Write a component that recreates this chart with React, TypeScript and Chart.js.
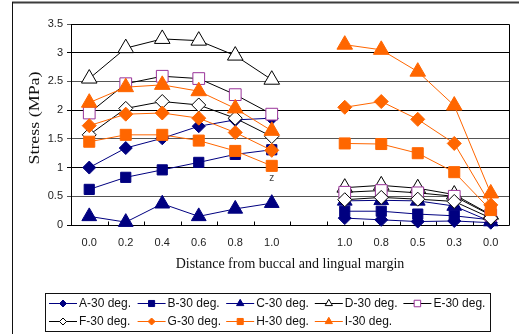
import React, { useEffect, useRef } from "react";
import { Chart, registerables } from "chart.js";

Chart.register(...registerables);

// ---------- data ----------
const CATEGORIES = ["0.0", "0.2", "0.4", "0.6", "0.8", "1.0", "", "1.0", "0.8", "0.5", "0.3", "0.0"];
const SERIES_NAMES = ["A-30 deg.", "B-30 deg.", "C-30 deg.", "D-30 deg.", "E-30 deg.", "F-30 deg.", "G-30 deg.", "H-30 deg.", "I-30 deg."];

const A_30 = [1.0, 1.34, 1.51, 1.72, 1.83, 1.86, null, 0.12, 0.09, 0.06, 0.07, 0.04];
const B_30 = [0.62, 0.83, 0.96, 1.09, 1.23, 1.31, null, 0.24, 0.24, 0.19, 0.16, 0.09];
const C_30 = [0.15, 0.05, 0.37, 0.15, 0.28, 0.38, null, 0.42, 0.43, 0.42, 0.33, 0.06];
const D_30 = [2.55, 3.08, 3.24, 3.21, 2.95, 2.53, null, 0.65, 0.69, 0.64, 0.53, 0.18];
const E_30 = [1.95, 2.46, 2.59, 2.55, 2.27, 1.93, null, 0.57, 0.6, 0.56, 0.5, 0.17];
const F_30 = [1.57, 2.03, 2.15, 2.09, 1.86, 1.54, null, 0.44, 0.48, 0.45, 0.41, 0.12];
const G_30 = [1.73, 1.93, 1.95, 1.86, 1.61, 1.3, null, 2.05, 2.15, 1.84, 1.42, 0.35];
const H_30 = [1.45, 1.57, 1.57, 1.47, 1.29, 1.03, null, 1.42, 1.41, 1.25, 0.92, 0.26];
const I_30 = [2.13, 2.4, 2.44, 2.33, 2.03, 1.64, null, 3.14, 3.05, 2.67, 2.08, 0.55];

const SERIES_DATA = [A_30, B_30, C_30, D_30, E_30, F_30, G_30, H_30, I_30];

const Y_MIN = 0;
const Y_MAX = 3.5;
const Y_STEP = 0.5;

const Y_TITLE = "Stress (MPa)";
const X_TITLE = "Distance from buccal and lingual margin";
const NOTE_TEXT = "z";
const NOTE_CATEGORY = 5;
const NOTE_VALUE = 0.82;

// ---------- styles ----------
const NAVY = "#000080";
const ORANGE = "#FF6600";
const PURPLE = "#993399";
const BLACK = "#000000";
const WHITE = "#FFFFFF";

type Style = { shape: string; r: number; lr: number; fill: string; stroke: string; line: string };
const STYLES: Style[] = [
  { shape: "rectRot", r: 6.5, lr: 3.5, fill: NAVY, stroke: NAVY, line: NAVY },
  { shape: "rect", r: 7.2, lr: 4.3, fill: NAVY, stroke: NAVY, line: NAVY },
  { shape: "triangle", r: 8.5, lr: 4.2, fill: NAVY, stroke: NAVY, line: NAVY },
  { shape: "triangle", r: 9, lr: 4.2, fill: WHITE, stroke: BLACK, line: BLACK },
  { shape: "rect", r: 8.3, lr: 4.6, fill: WHITE, stroke: PURPLE, line: BLACK },
  { shape: "rectRot", r: 7, lr: 3.5, fill: WHITE, stroke: BLACK, line: BLACK },
  { shape: "rectRot", r: 7, lr: 3.5, fill: ORANGE, stroke: ORANGE, line: ORANGE },
  { shape: "rect", r: 7.8, lr: 4.3, fill: ORANGE, stroke: ORANGE, line: ORANGE },
  { shape: "triangle", r: 9, lr: 4.2, fill: ORANGE, stroke: ORANGE, line: ORANGE },
];

function drawMarker(ctx: CanvasRenderingContext2D, shape: string, x: number, y: number, r: number, fill: string, stroke: string) {
  ctx.beginPath();
  if (shape === "rectRot") {
    ctx.moveTo(x - r, y);
    ctx.lineTo(x, y - r);
    ctx.lineTo(x + r, y);
    ctx.lineTo(x, y + r);
    ctx.closePath();
  } else if (shape === "rect") {
    const s = Math.SQRT1_2 * r;
    ctx.rect(x - s, y - s, 2 * s, 2 * s);
  } else {
    const h = r * 0.866;
    ctx.moveTo(x, y - r);
    ctx.lineTo(x + h, y + r / 2);
    ctx.lineTo(x - h, y + r / 2);
    ctx.closePath();
  }
  ctx.fillStyle = fill;
  ctx.fill();
  ctx.strokeStyle = stroke;
  ctx.lineWidth = 1;
  ctx.stroke();
}

const decorPlugin = {
  id: "decor",
  beforeDraw(chart: any) {
    const ctx = chart.ctx;
    ctx.save();
    ctx.fillStyle = "#FFFFFF";
    ctx.fillRect(0, 0, chart.width, chart.height);
    ctx.restore();
  },
  beforeDatasetsDraw(chart: any) {
    const ctx = chart.ctx as CanvasRenderingContext2D;
    const a = chart.chartArea;
    ctx.save();
    ctx.strokeStyle = "#000";
    ctx.lineWidth = 1;
    const l = Math.round(a.left) + 0.5;
    const t = Math.round(a.top) + 0.5;
    const r = Math.round(a.right) + 0.5;
    const b = Math.round(a.bottom) + 0.5;
    ctx.beginPath();
    ctx.moveTo(l, t);
    ctx.lineTo(r, t);
    ctx.lineTo(r, b);
    ctx.lineTo(l, b);
    ctx.closePath();
    ctx.stroke();
    // inward category tick marks
    const n = CATEGORIES.length;
    const step = (a.right - a.left) / n;
    ctx.beginPath();
    for (let k = 1; k < n; k++) {
      const x = Math.round(a.left + k * step) + 0.5;
      ctx.moveTo(x, b);
      ctx.lineTo(x, b - 4);
    }
    ctx.stroke();
    ctx.restore();
  },
  afterDraw(chart: any) {
    const ctx = chart.ctx as CanvasRenderingContext2D;
    const xs = chart.scales.x;
    const ys = chart.scales.y;
    ctx.save();
    // outer frame
    ctx.strokeStyle = "#3c3c3c";
    ctx.lineWidth = 2;
    ctx.beginPath();
    ctx.moveTo(12, 2.5);
    ctx.lineTo(chart.width, 2.5);
    ctx.stroke();
    ctx.strokeStyle = "#111";
    ctx.lineWidth = 1;
    ctx.beginPath();
    ctx.moveTo(12.5, 2);
    ctx.lineTo(12.5, chart.height);
    ctx.stroke();

    // y title (stretched like the reference)
    ctx.save();
    ctx.translate(35, 118);
    ctx.rotate(-Math.PI / 2);
    ctx.scale(1.28, 1);
    ctx.font = "14px 'Liberation Serif', 'Times New Roman', serif";
    ctx.fillStyle = "#111";
    ctx.textAlign = "center";
    ctx.textBaseline = "middle";
    ctx.fillText(Y_TITLE, 0, 0);
    ctx.restore();

    // note
    ctx.font = "10px 'Liberation Sans', Arial, sans-serif";
    ctx.fillStyle = "#444";
    ctx.textAlign = "center";
    ctx.textBaseline = "middle";
    ctx.fillText(NOTE_TEXT, xs.getPixelForValue(NOTE_CATEGORY), ys.getPixelForValue(NOTE_VALUE));

    // legend
    const boxL = 45.5, boxT = 293.5, boxR = 490.5, boxB = 331.5;
    ctx.strokeStyle = "#111";
    ctx.lineWidth = 1;
    ctx.strokeRect(boxL, boxT, boxR - boxL, boxB - boxT);
    ctx.font = "12px 'Liberation Sans', Arial, sans-serif";
    ctx.textAlign = "left";
    ctx.textBaseline = "middle";
    SERIES_NAMES.forEach((name, i) => {
      const col = i % 5;
      const row = Math.floor(i / 5);
      const x0 = 49 + col * 88.6;
      const y = 303.5 + row * 18;
      const st = STYLES[i];
      ctx.strokeStyle = st.line;
      ctx.lineWidth = 1;
      ctx.beginPath();
      ctx.moveTo(x0, y);
      ctx.lineTo(x0 + 28, y);
      ctx.stroke();
      drawMarker(ctx, st.shape, x0 + 14, y, st.lr, st.fill, st.stroke);
      ctx.fillStyle = "#111";
      ctx.fillText(name, x0 + 30, y + 0.5);
    });
    ctx.restore();
  },
};

export default function App() {
  const ref = useRef<HTMLCanvasElement | null>(null);

  useEffect(() => {
    const canvas = ref.current;
    if (!canvas) return;
    const n = SERIES_NAMES.length;
    const datasets = SERIES_NAMES.map((name, i) => {
      const st = STYLES[i];
      return {
        label: name,
        data: SERIES_DATA[i],
        borderColor: st.line,
        borderWidth: 1,
        backgroundColor: st.fill,
        pointStyle: st.shape,
        pointRadius: st.r,
        pointHoverRadius: st.r,
        pointBackgroundColor: st.fill,
        pointBorderColor: st.stroke,
        pointBorderWidth: 1,
        spanGaps: false,
        tension: 0,
        clip: false as any,
        order: n - 1 - i,
      };
    });

    const chart = new Chart(canvas, {
      type: "line",
      data: { labels: CATEGORIES, datasets },
      plugins: [decorPlugin],
      options: {
        responsive: false,
        animation: false,
        devicePixelRatio: 1,
        layout: { padding: { left: 13, top: 24, right: 6, bottom: 61 } },
        plugins: { legend: { display: false }, tooltip: { enabled: false } },
        scales: {
          x: {
            type: "category",
            offset: true,
            grid: { display: false, drawTicks: false, offset: true },
            border: { display: false },
            ticks: {
              padding: 11,
              autoSkip: false,
              maxRotation: 0,
              color: "#222",
              font: { family: "'Liberation Sans', Arial, sans-serif", size: 11 },
            },
            title: {
              display: true,
              text: X_TITLE,
              color: "#111",
              padding: { top: 0, bottom: 0 },
              font: { family: "'Liberation Serif', 'Times New Roman', serif", size: 14 },
            },
            afterFit: (scale: any) => {
              scale.height = 48;
            },
          },
          y: {
            min: Y_MIN,
            max: Y_MAX,
            ticks: {
              stepSize: Y_STEP,
              padding: 4,
              color: "#222",
              font: { family: "'Liberation Sans', Arial, sans-serif", size: 11 },
              callback: (v: any) => String(v),
            },
            grid: {
              color: (c: any) => (Math.abs(c.tick.value - Math.round(c.tick.value)) < 1e-6 ? "#000" : "#555"),
              lineWidth: 1,
              tickLength: 4,
              drawTicks: true,
            },
            border: { display: true, color: "#000" },
            title: { display: false },
            afterFit: (scale: any) => {
              scale.width = 58;
            },
          },
        },
      },
    });
    return () => chart.destroy();
  }, []);

  return (
    <div style={{ position: "absolute", left: 0, top: 0, width: 519, height: 334, background: "#fff" }}>
      <canvas ref={ref} width={519} height={334} style={{ display: "block", width: 519, height: 334 }} />
    </div>
  );
}
